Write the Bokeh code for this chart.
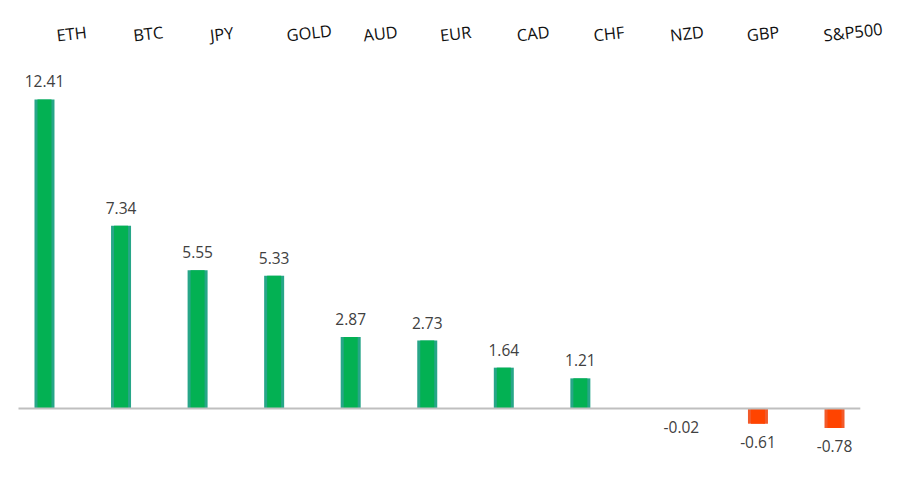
from bokeh.plotting import figure
from bokeh.layouts import column
from bokeh.models import ColumnDataSource, FactorRange, Range1d
from bokeh.embed import file_html
from bokeh.resources import INLINE
from bokeh.core.properties import value

# ---- data ----
categories = ["ETH", "BTC", "JPY", "GOLD", "AUD", "EUR", "CAD", "CHF", "NZD", "GBP", "S&P500"]
changes = [12.41, 7.34, 5.55, 5.33, 2.87, 2.73, 1.64, 1.21, -0.02, -0.61, -0.78]

# ---- layout constants (pixels) ----
TOTAL_W = 909
HEAD_H = 56           # height of the category-label strip
PX_X = 76.57          # px per bar slot
PX_LAB = 76.7         # px per label slot
PX_Y = 24.9           # px per unit
ZERO_Y = 408 - HEAD_H # canvas y of zero line in bar figure
BAR0 = 44             # canvas x of first bar centre
LAB0 = 56             # canvas x of first label's left edge
FRAME_H = 480 - HEAD_H
GROUP_GAP = 0.32
TXT_SHIFT = -6        # empirical baseline correction


def base_fig(**kw):
    f = figure(output_backend="svg", toolbar_location=None, tools="",
               min_border_left=0, min_border_top=0, min_border_bottom=0, **kw)
    f.axis.visible = False
    f.grid.visible = False
    f.outline_line_color = None
    f.background_fill_color = "white"
    f.border_fill_color = "white"
    return f


# ---- header with category labels ----
lab_pad = (TOTAL_W / PX_LAB - len(categories)) / 2
lab_range = FactorRange(factors=categories, range_padding=lab_pad,
                        range_padding_units="absolute")
lab_xoff = LAB0 - (0.5 + lab_pad) * PX_LAB
head = base_fig(x_range=lab_range, y_range=Range1d(0, HEAD_H),
                frame_width=TOTAL_W, frame_height=HEAD_H, min_border_right=0)
lab_src = ColumnDataSource(dict(x=categories, y=[HEAD_H - 40.5] * len(categories)))
head.text(x="x", y="y", text="x", source=lab_src,
          x_offset=lab_xoff, y_offset=TXT_SHIFT,
          text_align="left", text_baseline="alphabetic", angle=0.113,
          text_font=value("Open Sans"), text_font_size="16.5px", text_color="#111111")

# ---- bars ----
groups = ["up" if v > 0 else "down" for v in changes]
factors = list(zip(groups, categories))

pad = BAR0 / PX_X - 0.5
bar_range = FactorRange(factors=factors, group_padding=GROUP_GAP,
                        range_padding=pad, range_padding_units="absolute")
FRAME_W = round((len(categories) + GROUP_GAP + 2 * pad) * PX_X)
x_start = -pad

y_top = ZERO_Y / PX_Y
y_bot = -(FRAME_H - ZERO_Y) / PX_Y

p = base_fig(x_range=bar_range, y_range=Range1d(y_bot, y_top),
             frame_width=FRAME_W, frame_height=FRAME_H,
             min_border_right=max(0, TOTAL_W - FRAME_W))

fill = ["#03b153" if v > 0 else "#ff4400" for v in changes]
edge = ["#27a688" if v > 0 else "#f25a2a" for v in changes]
offs = [(-12 if v > 0 else 24) + TXT_SHIFT for v in changes]
src = ColumnDataSource(dict(x=factors, top=changes, fill=fill, edge=edge,
                            label=[f"{v:.2f}" for v in changes], off=offs))

bw = 20 / PX_X
p.vbar(x="x", top="top", bottom=0, width=bw, fill_color="edge", line_color=None, source=src)
p.vbar(x="x", top="top", bottom=0, width=bw * 0.7, fill_color="fill", line_color=None,
       source=src)

# zero axis line
p.segment(x0=[x_start + 18 / PX_X], x1=[x_start + 860 / PX_X], y0=[0], y1=[0],
          line_color="#bfbfbf", line_width=2)

p.text(x="x", y="top", text="label", y_offset="off", source=src,
       text_align="center", text_baseline="alphabetic",
       text_font=value("Open Sans"), text_font_size="15.5px", text_color="#404040")

layout = column(head, p, spacing=0)
open("out.html", "w").write(file_html(layout, INLINE))
